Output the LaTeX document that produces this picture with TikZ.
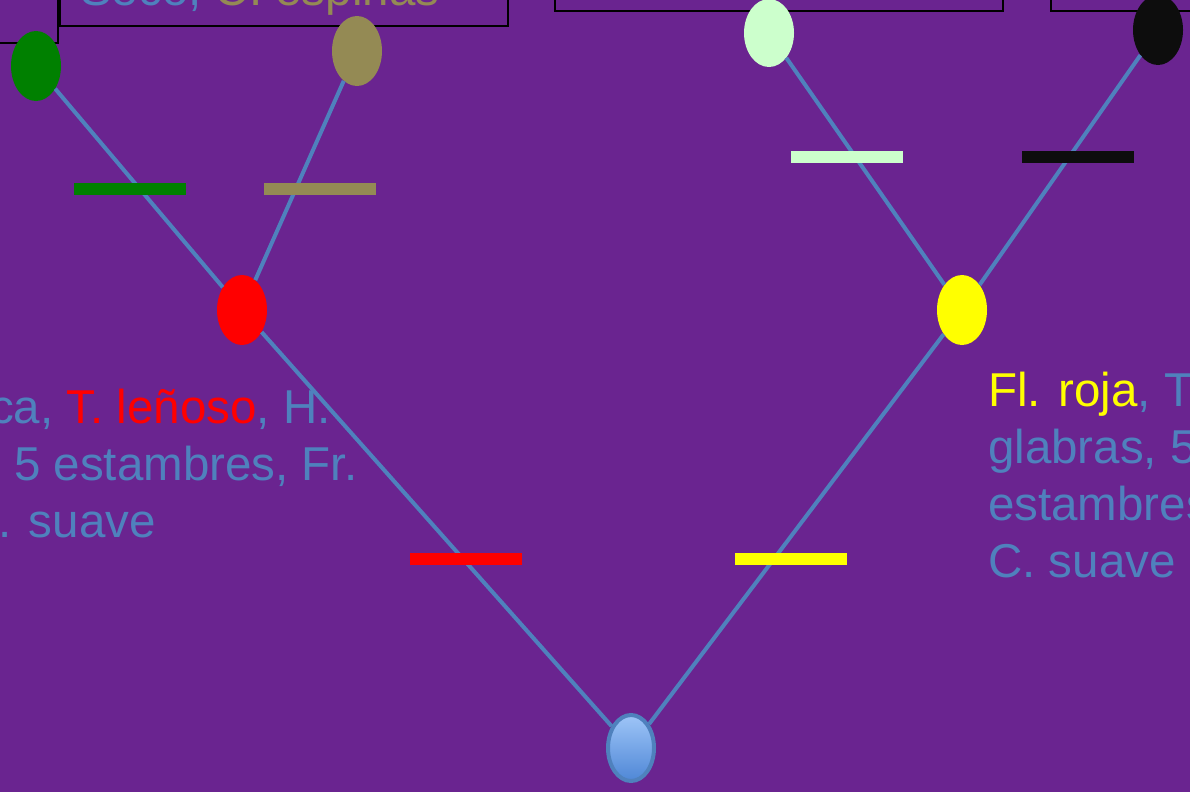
\documentclass[tikz,border=0pt]{standalone}
\usepackage{fontspec}
\setmainfont{Liberation Sans}
\usepackage{tikz}
\usetikzlibrary{shapes.geometric}
\definecolor{fondo}{HTML}{6A2490}
\definecolor{azulrama}{HTML}{4F81BD}
\definecolor{verde}{HTML}{008000}
\definecolor{oliva}{HTML}{948A54}
\definecolor{verdeclaro}{HTML}{CCFFCC}
\definecolor{negro}{HTML}{0D0D0D}
\definecolor{rojo}{HTML}{FF0000}
\definecolor{amarillo}{HTML}{FFFF00}
\definecolor{raizarriba}{HTML}{9EC5F7}
\definecolor{raizabajo}{HTML}{4F87D6}

\begin{document}
\begin{tikzpicture}[
  x=1pt,y=-1pt,
  nodo/.style={ellipse,minimum width=50pt,minimum height=70pt,inner sep=0pt},
  marca/.style={rectangle,minimum width=112pt,minimum height=12pt,inner sep=0pt},
  linea/.style={azulrama,line width=4pt},
  caja/.style={draw=black,line width=2pt},
  texto/.style={anchor=base west,inner sep=0pt,text=azulrama,
                font=\fontsize{47.5}{57}\selectfont}
]
\useasboundingbox (0,0) rectangle (1190,792);
\fill[fondo] (0,0) rectangle (1190,792);
\clip (0,0) rectangle (1190,792);

% cajas de arriba
\draw[caja] (-10,-10) rectangle (58,43);
\draw[caja] (60,-10) rectangle (508,26);
\draw[caja] (555,-10) rectangle (1003,11);
\draw[caja] (1051,-10) rectangle (1200,11);
\node[texto] (seco) at (80,6) {Seco, \textcolor{oliva}{C. espinas}};

% caracteres
\node[texto] (izq1) at (-10,423) {ca, \textcolor{rojo}{T. leñoso}, H.};
\node[texto] (izq2) at (14,480) {5 estambres, Fr.};
\node[texto] (izq3) at (-2,537) {. suave};
\node[texto] (der1) at (988,406) {\textcolor{amarillo}{Fl. roja}, T.};
\node[texto] (der2) at (988,463) {glabras, 5};
\node[texto] (der3) at (988,520) {estambres};
\node[texto] (der4) at (988,577) {C. suave};

% nodos
\node[nodo,minimum width=46pt,minimum height=66pt,draw=azulrama,line width=4pt,
      top color=raizarriba,bottom color=raizabajo] (raiz) at (631,748) {};
\node[nodo,fill=rojo] (rojo) at (242,310) {};
\node[nodo,fill=amarillo] (amarillo) at (962,310) {};
\node[nodo,fill=verde] (verde) at (36,66) {};
\node[nodo,fill=oliva] (oliva) at (357,51) {};
\node[nodo,fill=verdeclaro,minimum height=68pt] (verdeclaro) at (769,33) {};
\node[nodo,fill=negro] (negro) at (1158,30) {};

\draw[linea] (raiz) -- (rojo);
\draw[linea] (raiz) -- (amarillo);
\draw[linea] (rojo) -- (verde);
\draw[linea] (rojo) -- (oliva);
\draw[linea] (amarillo) -- (verdeclaro);
\draw[linea] (amarillo) -- (negro);

% marcas sobre las ramas
\node[marca,fill=verde] (mverde) at (129.5,189) {};
\node[marca,fill=oliva] (moliva) at (320,188.5) {};
\node[marca,fill=rojo] (mrojo) at (465.5,559) {};
\node[marca,fill=amarillo] (mamarillo) at (791,559) {};
\node[marca,fill=verdeclaro] (mverdeclaro) at (847,156.5) {};
\node[marca,fill=negro] (mnegro) at (1078,156.5) {};
\end{tikzpicture}
\end{document}
